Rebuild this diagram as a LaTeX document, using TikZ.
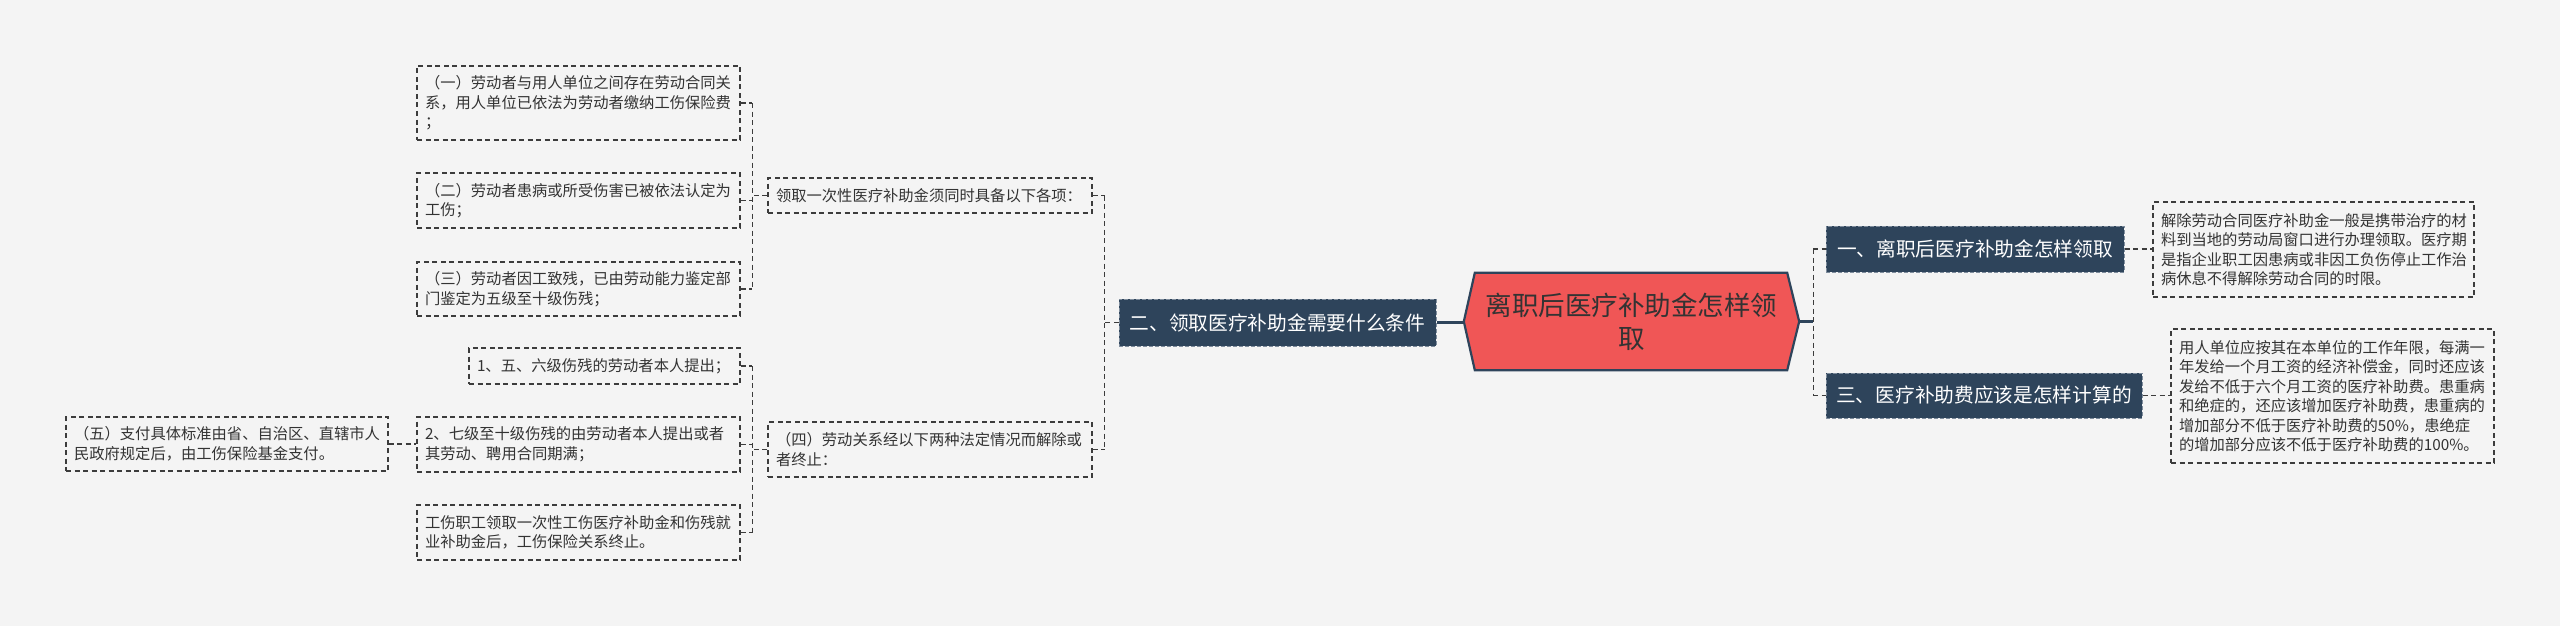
\documentclass[tikz,border=0pt]{standalone}
\usepackage{fontspec}
\setmainfont{Noto Sans CJK SC}
\usetikzlibrary{calc,backgrounds}
\definecolor{bgc}{HTML}{F4F4F4}
\definecolor{dark}{HTML}{2E445B}
\definecolor{hexred}{HTML}{F05656}
\definecolor{linec}{HTML}{3C3C3C}
\definecolor{txt}{HTML}{333333}
\definecolor{darkedge}{HTML}{7E8C9C}
\begin{document}
\begin{tikzpicture}[x=1pt,y=-1pt,
  txtbox/.style={draw=linec, line width=1.2pt, dash pattern=on 5pt off 3.5pt, fill=bgc, text=txt,
    font=\fontsize{15.3}{19.5}\selectfont, align=left, inner xsep=8pt, inner ysep=0pt, text width=#1},
  darkbox/.style={fill=dark, draw=darkedge, line width=1pt, dash pattern=on 4pt off 2pt, text=white,
    font=\fontsize{19.7}{24}\selectfont, inner sep=0pt},
  conn/.style={draw=linec, line width=1.3pt, dash pattern=on 5pt off 3.5pt},
  mainline/.style={draw=dark, line width=2.2pt}]
\useasboundingbox (0,0) rectangle (2560,626);

% left column
\node[txtbox=307pt, minimum height=74pt] (a1) at (578.5,103) {（一）劳动者与用人单位之间存在劳动合同关\\系，用人单位已依法为劳动者缴纳工伤保险费\\；};
\node[txtbox=307pt, minimum height=55pt] (a2) at (578.5,200.5) {（二）劳动者患病或所受伤害已被依法认定为\\工伤；};
\node[txtbox=307pt, minimum height=54pt] (a3) at (578.5,289) {（三）劳动者因工致残，已由劳动能力鉴定部\\门鉴定为五级至十级伤残；};
\node[txtbox=255pt, minimum height=36pt] (b1) at (604.5,366) {1、五、六级伤残的劳动者本人提出；};
\node[txtbox=307pt, minimum height=55pt] (b2) at (578.5,444.5) {2、七级至十级伤残的由劳动者本人提出或者\\其劳动、聘用合同期满；};
\node[txtbox=307pt, minimum height=55pt] (b3) at (578.5,532.5) {工伤职工领取一次性工伤医疗补助金和伤残就\\业补助金后，工伤保险关系终止。};
\node[txtbox=306pt, minimum height=54pt] (c) at (227,444) {（五）支付具体标准由省、自治区、直辖市人\\民政府规定后，由工伤保险基金支付。};

% middle column
\node[txtbox=308pt, minimum height=35pt] (m1) at (930,195.5) {领取一次性医疗补助金须同时具备以下各项：};
\node[txtbox=308pt, minimum height=55pt] (m2) at (930,449.5) {（四）劳动关系经以下两种法定情况而解除或\\者终止：};

% main branches
\node[darkbox, minimum width=317pt, minimum height=47pt] (n2) at (1277.5,322.5) {二、领取医疗补助金需要什么条件};
\node[minimum width=335pt, minimum height=97pt, inner sep=0pt, align=center, text=txt,
  font=\fontsize{26.5}{33}\selectfont] (hex) at (1631.5,321.5) {离职后医疗补助金怎样领\\取};
\node[darkbox, minimum width=298pt, minimum height=46pt] (n1) at (1975,249) {一、离职后医疗补助金怎样领取};
\node[darkbox, minimum width=316pt, minimum height=45pt] (n3) at (1984,395.5) {三、医疗补助费应该是怎样计算的};

% right texts
\node[txtbox=305pt, minimum height=95pt] (r1) at (2313.5,249.5) {解除劳动合同医疗补助金一般是携带治疗的材\\料到当地的劳动局窗口进行办理领取。医疗期\\是指企业职工因患病或非因工负伤停止工作治\\病休息不得解除劳动合同的时限。};
\node[txtbox=307pt, minimum height=134pt] (r2) at (2332.5,396) {用人单位应按其在本单位的工作年限，每满一\\年发给一个月工资的经济补偿金，同时还应该\\发给不低于六个月工资的医疗补助费。患重病\\和绝症的，还应该增加医疗补助费，患重病的\\增加部分不低于医疗补助费的50\%，患绝症\\的增加部分应该不低于医疗补助费的100\%。};

% connectors: group A -> m1
\coordinate (ja) at ([xshift=-15pt]m1.west);
\draw[conn] (m1.west) -- (ja);
\draw[conn] (ja |- a1.east) -- (ja |- a3.east);
\draw[conn] (a1.east) -- (ja |- a1.east);
\draw[conn] (a2.east) -- (ja |- a2.east);
\draw[conn] (a3.east) -- (ja |- a3.east);

% group B -> m2
\coordinate (jb) at ([xshift=-15pt]m2.west);
\draw[conn] (m2.west) -- (jb);
\draw[conn] (jb |- b1.east) -- (jb |- b3.east);
\draw[conn] (b1.east) -- (jb |- b1.east);
\draw[conn] (b2.east) -- (jb |- b2.east);
\draw[conn] (b3.east) -- (jb |- b3.east);

% c -> b2
\draw[conn] (c.east) -- (c.east -| b2.west);

% m1, m2 -> n2
\coordinate (jm) at ([xshift=-14pt]n2.west);
\draw[conn] (n2.west) -- (jm);
\draw[conn] (jm |- m1.east) -- (jm |- m2.east);
\draw[conn] (m1.east) -- (jm |- m1.east);
\draw[conn] (m2.east) -- (jm |- m2.east);

% n2 -> hex
\draw[mainline] (n2.east) -- (n2.east -| hex.west);

% hex -> n1, n3
\coordinate (jr) at ([xshift=14pt]hex.east);
\draw[mainline] (hex.east) -- (jr);
\draw[conn] (jr |- n1.west) -- (jr |- n3.west);
\draw[conn] (jr |- n1.west) -- (n1.west);
\draw[conn] (jr |- n3.west) -- (n3.west);

% n1 -> r1, n3 -> r2
\draw[conn] (n1.east) -- (n1.east -| r1.west);
\draw[conn] (n3.east) -- (n3.east -| r2.west);

\begin{scope}[on background layer]
\fill[bgc] (0,0) rectangle (2560,626);
\draw[fill=hexred, draw=dark, line width=2.2pt, line join=miter]
  (hex.west) -- ($(hex.north west)+(11,0)$) -- ($(hex.north east)+(-12,0)$) -- (hex.east)
  -- ($(hex.south east)+(-12,0)$) -- ($(hex.south west)+(11,0)$) -- cycle;
\end{scope}
\end{tikzpicture}
\end{document}
